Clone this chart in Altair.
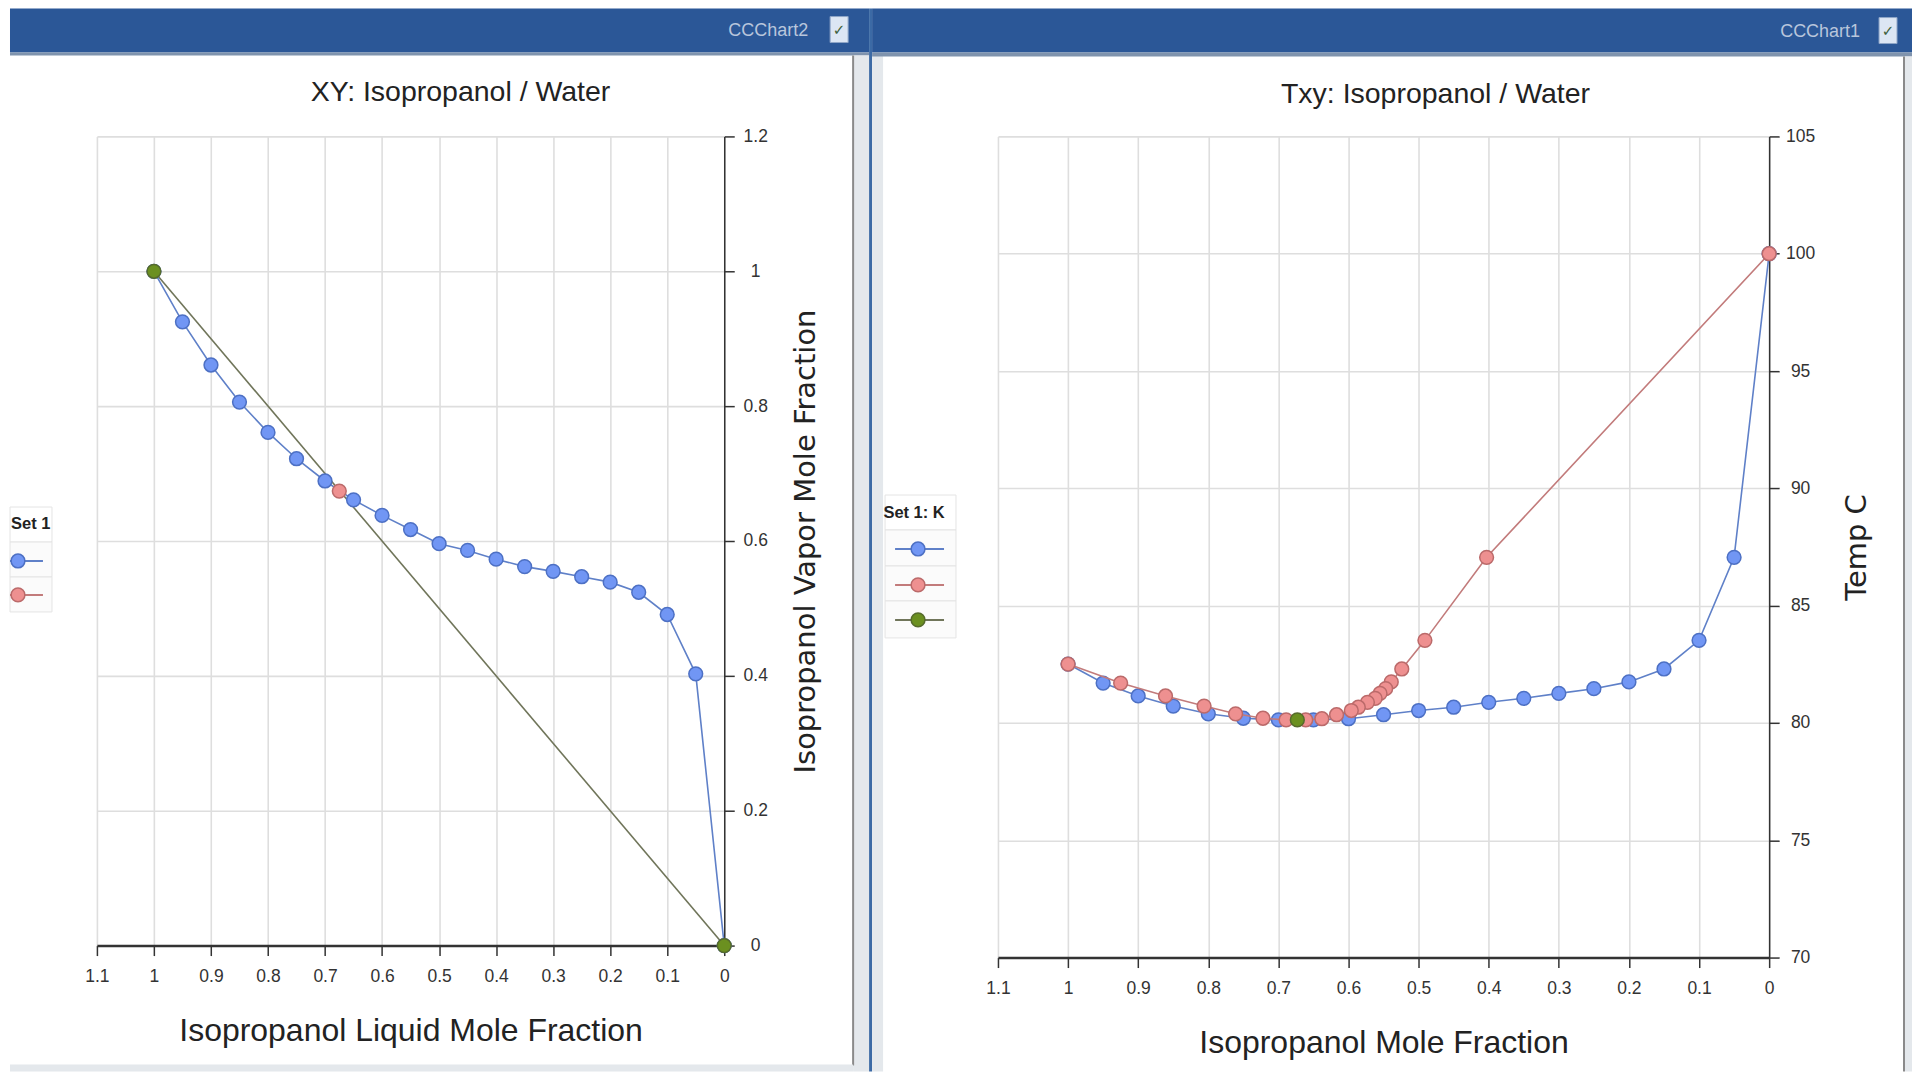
import altair as alt

# ---------- data ----------
xy_liquid = [0, .05, .10, .15, .20, .25, .30, .35, .40, .45, .50, .55, .60, .65, .70, .75, .80, .85, .90, .95, 1]
xy_vapor = [0, .403, .491, .524, .539, .547, .555, .562, .573, .586, .596, .617, .638, .661, .689, .722, .761, .806, .861, .925, 1]
xy_az_x = [.675]
xy_az_y = [.674]
xy_diag = [0, 1]

txy_liquid = [0, .05, .10, .15, .20, .25, .30, .35, .40, .45, .50, .55, .60, .65, .70, .75, .80, .85, .90, .95, 1]
txy_bubble = [100, 87.06, 83.52, 82.3, 81.75, 81.46, 81.26, 81.05, 80.88, 80.67, 80.53, 80.35, 80.18, 80.13, 80.13, 80.2, 80.39, 80.72, 81.15, 81.7, 82.51]
txy_vapor = [0, .403, .491, .524, .539, .547, .555, .562, .573, .586, .596, .617, .638, .661, .689, .722, .761, .806, .861, .925, 1]
txy_dew = [100, 87.06, 83.52, 82.3, 81.75, 81.46, 81.26, 81.05, 80.88, 80.67, 80.53, 80.35, 80.18, 80.13, 80.13, 80.2, 80.39, 80.72, 81.15, 81.7, 82.51]
txy_az_x = [.673]
txy_az_t = [80.13]

x_ticks = [0, .1, .2, .3, .4, .5, .6, .7, .8, .9, 1, 1.1]
y_ticks_xy = [0, .2, .4, .6, .8, 1, 1.2]
y_ticks_t = [70, 75, 80, 85, 90, 95, 100, 105]

BLUE, BLUE_E, BLUE_L = "#7196f4", "#4d70c4", "#5f80c8"
RED, RED_E, RED_L = "#ee9090", "#bb6a6a", "#c27b7b"
GRN, GRN_E, GRN_L = "#6b9020", "#566b2c", "#70755a"
HEAD = "#2b5797"
STRIP = "#e4e8ec"
FONT = "Liberation Sans"
DOT = 190

OX, OY = 95, 136  # left plot origin on the page
ONE = alt.Data(values=[{"a": 1}])


def rect(x0, y0, x1, y1, color, stroke=None):
    kw = {"stroke": stroke, "strokeWidth": 1} if stroke else {}
    return alt.Chart(ONE).mark_rect(color=color, **kw).encode(
        x=alt.value(x0 - OX), x2=alt.value(x1 - OX), y=alt.value(y0 - OY), y2=alt.value(y1 - OY))


def label(text, x, y, size, color="#222222", align="center", weight="normal", font=FONT):
    return alt.Chart(alt.Data(values=[{"t": text}])).mark_text(
        fontSize=size, color=color, align=align, baseline="middle", fontWeight=weight, font=font
    ).encode(text="t:N", x=alt.value(x - OX), y=alt.value(y - OY))


def key(x0, x1, xc, y, line, fill, edge):
    r = alt.Chart(ONE).mark_rule(color=line, strokeWidth=2).encode(
        x=alt.value(x0 - OX), x2=alt.value(x1 - OX), y=alt.value(y - OY))
    p = alt.Chart(ONE).mark_point(filled=True, size=DOT, fill=fill, stroke=edge, strokeWidth=1.5, opacity=1).encode(
        x=alt.value(xc - OX), y=alt.value(y - OY))
    return r + p


chrome = [
    rect(8, 8, 868, 52, HEAD),
    rect(8, 52, 868, 55, "#7f93ad"),
    rect(852, 55, 868, 1072, STRIP),
    rect(851, 55, 853, 1066, "#8a8a8a"),
    rect(8, 1065, 852, 1072, STRIP),
    rect(868, 8, 871, 1072, "#3c6aa5"),
    rect(871, 55, 882, 1072, STRIP),
    rect(871, 8, 1912, 52, HEAD),
    rect(871, 52, 1912, 56, "#7f93ad"),
    rect(1903, 56, 1905, 1072, "#8a8a8a"),
    rect(1905, 56, 1912, 1072, STRIP),
    rect(829, 16, 847, 42, "#dce6f4", "#8fa6c8"),
    rect(1879, 17, 1897, 43, "#dce6f4", "#8fa6c8"),
    label("\u2713", 838, 29, 15, "#3f5f3a", font="DejaVu Sans"),
    label("\u2713", 1888, 30, 15, "#3f5f3a", font="DejaVu Sans"),
    label("CCChart2", 767, 30, 18, "#b9c6dc"),
    label("CCChart1", 1820, 31, 18, "#b9c6dc"),
    label("XY: Isopropanol / Water", 459, 92, 28.5),
    label("Txy: Isopropanol / Water", 1435, 94, 28.5),
    # legend, left panel
    rect(8, 507, 50, 542, "#ffffff", "#e4e4e4"),
    rect(8, 542, 50, 577, "#fbfbfb", "#e4e4e4"),
    rect(8, 577, 50, 612, "#fbfbfb", "#e4e4e4"),
    label("Set 1", 9, 524, 16.5, "#222222", "left", "bold"),
    key(8, 41, 16, 561, BLUE_L, BLUE, BLUE_E),
    key(8, 41, 16, 595, RED_L, RED, RED_E),
    # legend, right panel
    rect(884, 495, 955, 530, "#ffffff", "#e4e4e4"),
    rect(884, 530, 955, 566, "#fbfbfb", "#e4e4e4"),
    rect(884, 566, 955, 601, "#fbfbfb", "#e4e4e4"),
    rect(884, 601, 955, 638, "#fbfbfb", "#e4e4e4"),
    label("Set 1: K", 913, 513, 16.5, "#222222", "center", "bold"),
    key(894, 943, 917, 549, BLUE_L, BLUE, BLUE_E),
    key(894, 943, 917, 585, RED_L, RED, RED_E),
    key(894, 943, 917, 620, GRN_L, GRN, GRN_E),
]


def series(xs, ys, sx, sy, ax_x, ax_y, line, fill, edge, with_line=True, with_points=True):
    rows = [{"x": a, "y": b, "i": i} for i, (a, b) in enumerate(zip(xs, ys))]
    base = alt.Chart(alt.Data(values=rows))
    enc = dict(
        x=alt.X("x:Q", scale=sx, axis=ax_x),
        y=alt.Y("y:Q", scale=sy, axis=ax_y),
    )
    out = []
    if with_line:
        out.append(base.mark_line(color=line, strokeWidth=1.6, clip=False).encode(order="i:Q", **enc))
    if with_points:
        out.append(base.mark_point(filled=True, size=DOT, fill=fill, stroke=edge, strokeWidth=1.5, opacity=1, clip=False).encode(**enc))
    return out


def axes(title_x, title_y, yticks, title_pad_x, title_pad_y):
    ax = alt.Axis(title=title_x, values=x_ticks, format="~g", orient="bottom", labelFlush=False,
                  titlePadding=title_pad_x, labelOverlap=False, domainWidth=2.5)
    ay = alt.Axis(title=title_y, values=yticks, format="~g", orient="right", labelAlign="center",
                  labelPadding=21, titleAngle=270, titlePadding=title_pad_y, labelOverlap=False,
                  titleFont="DejaVu Sans", titleFontSize=29, titleBaseline="middle", domainWidth=1.5)
    return ax, ay


sx_l = alt.Scale(domain=[1.1, 0], nice=False, zero=False)
sy_l = alt.Scale(domain=[0, 1.2], nice=False)
sx_r = alt.Scale(domain=[1.1, 0], nice=False, zero=False)
sy_r = alt.Scale(domain=[70, 105], nice=False, zero=False)

lax, lay = axes("Isopropanol Liquid Mole Fraction", "Isopropanol Vapor Mole Fraction", y_ticks_xy, 31, 38)
rax, ray = axes("Isopropanol Mole Fraction", "Temp C", y_ticks_t, 31, 42)

left_layers = chrome + series(xy_diag, xy_diag, sx_l, sy_l, lax, lay, GRN_L, GRN, GRN_E, with_points=False) \
    + series(xy_liquid, xy_vapor, sx_l, sy_l, lax, lay, BLUE_L, BLUE, BLUE_E) \
    + series(xy_az_x, xy_az_y, sx_l, sy_l, lax, lay, RED_L, RED, RED_E, with_line=False) \
    + series(xy_diag, xy_diag, sx_l, sy_l, lax, lay, GRN_L, GRN, GRN_E, with_line=False)

right_layers = series(txy_liquid, txy_bubble, sx_r, sy_r, rax, ray, BLUE_L, BLUE, BLUE_E) \
    + series(txy_vapor, txy_dew, sx_r, sy_r, rax, ray, RED_L, RED, RED_E) \
    + series(txy_az_x, txy_az_t, sx_r, sy_r, rax, ray, GRN_L, GRN, GRN_E, with_line=False)

left = alt.layer(*left_layers).properties(width=628, height=810)
right = alt.layer(*right_layers).properties(width=772, height=822)

chart = alt.hconcat(left, right, spacing=274, bounds="flush").properties(
    padding=0, background="#ffffff"
).configure_view(stroke=None).configure_axis(
    grid=True, gridColor="#dedede", gridWidth=1.6, domainColor="#333333", tickColor="#333333",
    tickSize=10, tickWidth=1.5, labelFont=FONT, labelFontSize=17.5, labelColor="#333333", labelPadding=12,
    titleFont=FONT, titleFontSize=32, titleFontWeight="normal", titleColor="#222222"
)

chart.save("out.html", embed_options={"renderer": "svg", "actions": False})
